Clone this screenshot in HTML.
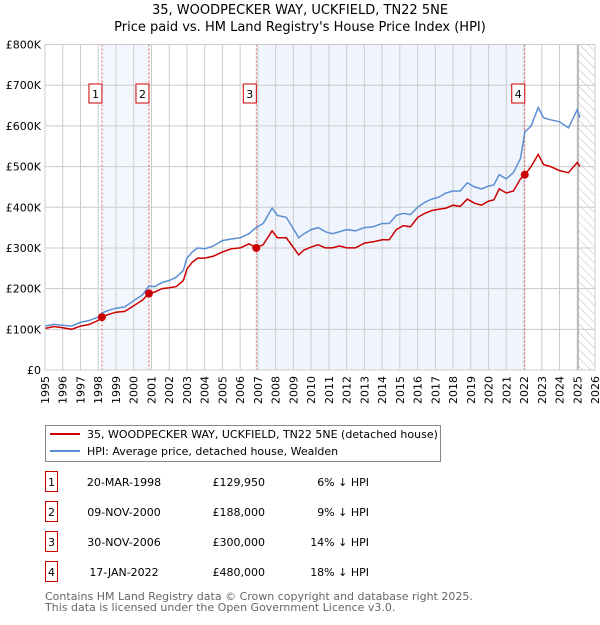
<!DOCTYPE html>
<html><head><meta charset="utf-8"><style>
body{margin:0;background:#fff;font-family:"Liberation Sans","DejaVu Sans",sans-serif;}
svg text{font-family:"DejaVu Sans","Liberation Sans",sans-serif;}
</style></head><body>
<svg id="c" width="600" height="620" viewBox="0 0 600 620" xmlns="http://www.w3.org/2000/svg">
<defs><pattern id="hatch" width="6" height="6" patternUnits="userSpaceOnUse" patternTransform="rotate(-45)"><line x1="0" y1="0" x2="0" y2="6" stroke="#bbb" stroke-width="1"/></pattern></defs>
<text x="300" y="14" text-anchor="middle" font-size="13">35, WOODPECKER WAY, UCKFIELD, TN22 5NE</text>
<text x="300" y="31" text-anchor="middle" font-size="13">Price paid vs. HM Land Registry's House Price Index (HPI)</text>
<g id="plot"></g>
<g>
<rect x="45.5" y="425.5" width="395" height="36" fill="#fff" stroke="#888"/>
<line x1="50" y1="434" x2="80" y2="434" stroke="#cc0000" stroke-width="2"/>
<text x="87" y="438" font-size="11">35, WOODPECKER WAY, UCKFIELD, TN22 5NE (detached house)</text>
<line x1="50" y1="451" x2="80" y2="451" stroke="#5b8fd4" stroke-width="2"/>
<text x="87" y="455" font-size="11">HPI: Average price, detached house, Wealden</text>
</g>
<g id="table" font-size="11"></g>
<text x="45" y="600" font-size="11" fill="#666">Contains HM Land Registry data © Crown copyright and database right 2025.</text>
<text x="45" y="611" font-size="11" fill="#666">This data is licensed under the Open Government Licence v3.0.</text>
</svg>
<script>
const hpiYears=[1995,1995.5,1996,1996.5,1997,1997.5,1998,1998.2,1998.6,1999,1999.5,2000,2000.5,2000.85,2001.2,2001.6,2002,2002.4,2002.8,2003,2003.3,2003.6,2004,2004.5,2005,2005.5,2006,2006.5,2006.9,2007.3,2007.8,2008.1,2008.6,2009.1,2009.3,2009.6,2010,2010.4,2010.8,2011.2,2011.6,2012,2012.5,2013,2013.5,2014,2014.4,2014.8,2015.2,2015.6,2016,2016.4,2016.8,2017.2,2017.6,2018,2018.4,2018.8,2019.2,2019.6,2020,2020.3,2020.6,2021,2021.4,2021.8,2022.05,2022.4,2022.8,2023.1,2023.5,2024,2024.5,2025,2025.15];
const hpiValues=[108,112,110,108,117,122,130,140,147,152,155,170,185,206,205,215,220,228,245,275,290,300,298,305,318,322,325,335,350,360,398,380,375,340,325,335,345,350,340,335,340,345,342,350,352,360,360,380,385,382,400,412,420,425,435,440,440,460,450,445,452,455,480,470,485,520,585,600,645,620,615,610,595,640,620];
const ppYears=[1995,1995.5,1996,1996.5,1997,1997.5,1998,1998.2,1998.6,1999,1999.5,2000,2000.5,2000.85,2001.2,2001.6,2002,2002.4,2002.8,2003,2003.3,2003.6,2004,2004.5,2005,2005.5,2006,2006.5,2006.9,2007.3,2007.8,2008.1,2008.6,2009.1,2009.3,2009.6,2010,2010.4,2010.8,2011.2,2011.6,2012,2012.5,2013,2013.5,2014,2014.4,2014.8,2015.2,2015.6,2016,2016.4,2016.8,2017.2,2017.6,2018,2018.4,2018.8,2019.2,2019.6,2020,2020.3,2020.6,2021,2021.4,2021.8,2022.05,2022.4,2022.8,2023.1,2023.5,2024,2024.5,2025,2025.15];
const ppValues=[102,107,104,100,108,112,122,130,137,142,144,158,172,188,192,200,202,205,220,248,265,275,275,280,290,298,300,310,300,308,342,325,325,295,283,295,302,308,300,300,305,300,300,312,315,320,320,345,355,352,375,385,392,395,398,405,402,420,410,405,415,418,445,435,440,470,480,500,530,505,500,490,485,510,500];
const yTicks=[0,100,200,300,400,500,600,700,800];
const yTickLabels=["£0","£100K","£200K","£300K","£400K","£500K","£600K","£700K","£800K"];
const xTicks=[1995,1996,1997,1998,1999,2000,2001,2002,2003,2004,2005,2006,2007,2008,2009,2010,2011,2012,2013,2014,2015,2016,2017,2018,2019,2020,2021,2022,2023,2024,2025,2026];
const saleYears=[1998.21,2000.86,2006.91,2022.04];
const salePrices=[129.95,188,300,480];
const saleLabels=["1","2","3","4"];
const saleDates=["20-MAR-1998","09-NOV-2000","30-NOV-2006","17-JAN-2022"];
const salePriceText=["£129,950","£188,000","£300,000","£480,000"];
const saleDiff=["6% ↓ HPI","9% ↓ HPI","14% ↓ HPI","18% ↓ HPI"];

const L=45,R=595,T=44.5,B=370;
const x=v=>L+(v-1995)/31*(R-L);
const y=v=>B-v/800*(B-T);
const NS="http://www.w3.org/2000/svg";
const g=document.getElementById('plot');
function mk(tag,attrs,parent){const e=document.createElementNS(NS,tag);for(const k in attrs)e.setAttribute(k,attrs[k]);(parent||g).appendChild(e);return e;}
// shading
for(let i=0;i<saleYears.length;i+=2){
 const end=i+1<saleYears.length?saleYears[i+1]:2025;
 const r=mk('rect',{x:x(saleYears[i]),y:T,width:x(end)-x(saleYears[i]),height:B-T,fill:'#eef3fc',opacity:0.7});
 
 
}
{const r=mk('rect',{x:x(saleYears[2]),y:T,width:x(saleYears[3])-x(saleYears[2]),height:B-T,fill:'#eef3fc',opacity:0.7});

}
const hat=mk('rect',{x:x(2025.05),y:T,width:R-x(2025.05),height:B-T,fill:'url(#hatch)'});


// grid
xTicks.forEach(t=>{mk('line',{x1:x(t),x2:x(t),y1:T,y2:B,stroke:'#ccc','stroke-width':1});
 const tx=mk('text',{x:0,y:0,'font-size':11,'text-anchor':'end',transform:`translate(${x(t)+4},${B+6}) rotate(-90)`});tx.textContent=t;
 
 });
yTicks.forEach((t,i)=>{mk('line',{x1:L,x2:R,y1:y(t),y2:y(t),stroke:'#ccc','stroke-width':1});
 const tx=mk('text',{x:L-4,y:y(t)+4,'font-size':11,'text-anchor':'end'});tx.textContent=yTickLabels[i];
 
 });
mk('line',{x1:x(2025.05),x2:x(2025.05),y1:T,y2:B,stroke:'#999','stroke-width':1});
// sale vlines
saleYears.forEach(s=>{mk('line',{x1:x(s),x2:x(s),y1:T,y2:B,stroke:'#e06060','stroke-width':1,'stroke-dasharray':'2,2'});});
function path(xs,vs){return xs.map((a,i)=>(i?'L':'M')+x(a).toFixed(1)+','+y(vs[i]).toFixed(1)).join(' ');}
const hp=mk('path',{d:path(hpiYears,hpiValues),fill:'none',stroke:'#5b8fd4','stroke-width':1.5});


const pp=mk('path',{d:path(ppYears,ppValues),fill:'none',stroke:'#cc0000','stroke-width':1.5});


saleYears.forEach((s,i)=>{
 const c=mk('circle',{cx:x(s),cy:y(salePrices[i]),r:4,fill:'#cc0000'});
 
 
 const bx=mk('g',{});
 
 
 mk('rect',{x:x(s)-13,y:84,width:13,height:19,fill:'#fff',stroke:'#cc0000'},bx);
 const t=mk('text',{x:x(s)-6.5,y:98,'font-size':11,'text-anchor':'middle'},bx);t.textContent=saleLabels[i];
});
mk('rect',{x:L,y:T,width:R-L,height:B-T,fill:'none',stroke:'#ccc'});
// table
const tb=document.getElementById('table');
saleLabels.forEach((lab,i)=>{
 const yy=483+i*30;
 const row=mk('g',{},tb);
 
 
 mk('rect',{x:45.5,y:yy-11.5,width:12,height:20,fill:'#fff',stroke:'#cc0000'},row);
 let t=mk('text',{x:51.5,y:yy+3,'text-anchor':'middle'},row);t.textContent=lab;
 t=mk('text',{x:124,y:yy+3,'text-anchor':'middle'},row);t.textContent=saleDates[i];
 t=mk('text',{x:265,y:yy+3,'text-anchor':'end'},row);t.textContent=salePriceText[i];
 t=mk('text',{x:369,y:yy+3,'text-anchor':'end'},row);t.textContent=saleDiff[i];
});
</script>
</body></html>
